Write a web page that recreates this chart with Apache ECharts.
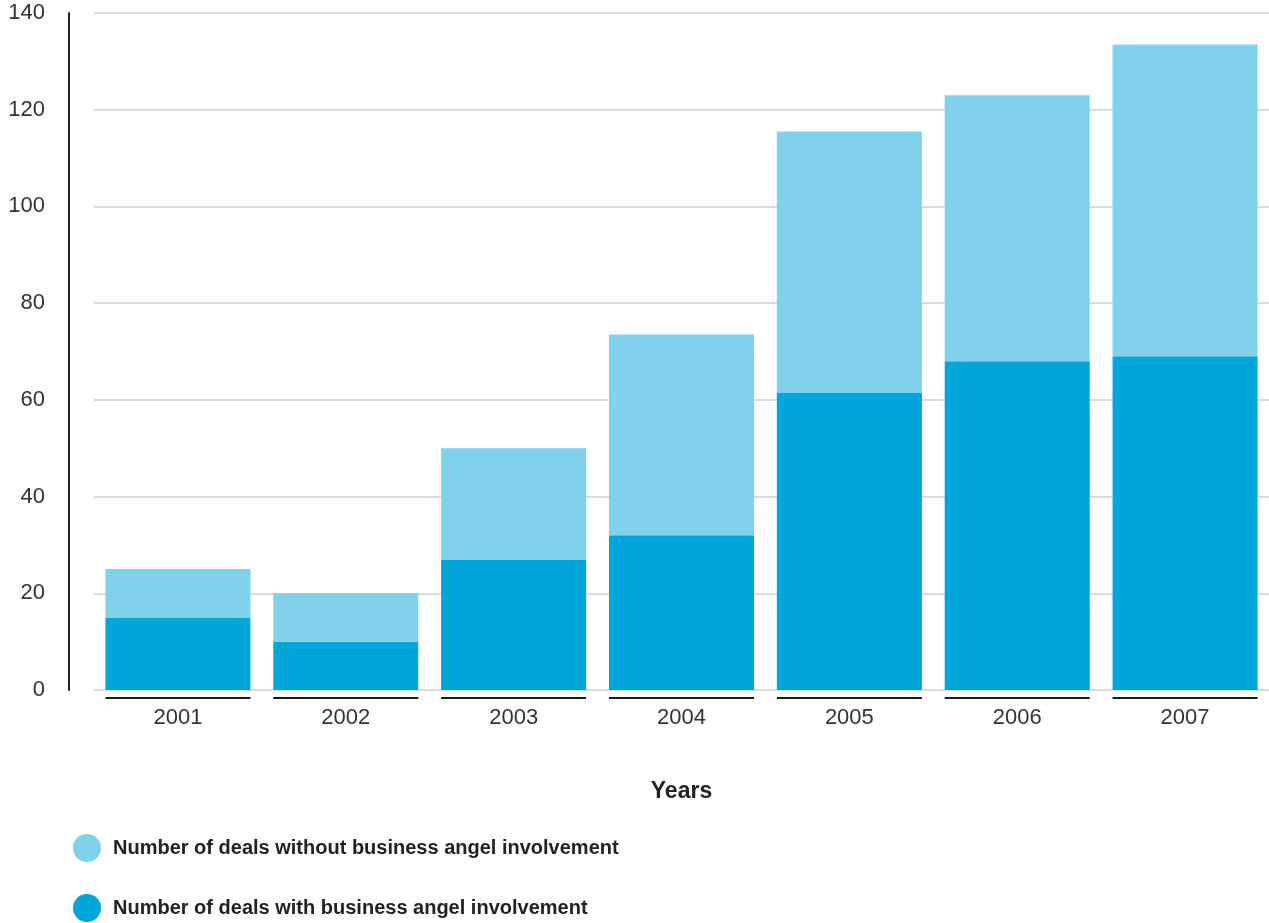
<!DOCTYPE html>
<html>
<head>
<meta charset="utf-8">
<title>Deals with and without business angel involvement</title>
<script src="https://cdn.jsdelivr.net/npm/echarts@6/dist/echarts.min.js"></script>
<style>
  html, body { margin: 0; padding: 0; background: #fff; }
  #chart { width: 1269px; height: 923px; }
</style>
</head>
<body>
<div id="chart"></div>
<script>
// Years on the category axis
const years = ['2001', '2002', '2003', '2004', '2005', '2006', '2007'];
// Deals with business angel involvement (lower stack)
const withAngel = [15, 10, 27, 32, 61.5, 68, 69];
// Deals without business angel involvement (upper stack)
const withoutAngel = [10, 10, 23, 41.5, 54, 55, 64.5];

const nameWithout = 'Number of deals without business angel involvement';
const nameWith = 'Number of deals with business angel involvement';

const LIGHT = '#7fd1ec';
const DARK = '#00a6d9';
const BAR_SHARE = 0.864; // bar width as a share of the category band
const FONT = '"Liberation Sans", Arial, sans-serif';

function legendRow(name, top) {
  return {
    orient: 'vertical',
    left: 73,
    top: top,
    padding: 0,
    itemWidth: 28,
    itemHeight: 28,
    icon: 'circle',
    data: [name],
    formatter: '{t|{name}}',
    textStyle: {
      rich: {
        t: { fontFamily: FONT, fontWeight: 'bold', fontSize: 20, color: '#222', padding: [0, 0, 0, 7] }
      }
    }
  };
}

const chart = echarts.init(document.getElementById('chart'), null, { renderer: 'canvas' });

chart.setOption({
  animation: false,
  backgroundColor: '#ffffff',
  grid: { left: 94, right: 0, top: 13, bottom: 233, containLabel: false },
  legend: [legendRow(nameWithout, 834), legendRow(nameWith, 894)],
  xAxis: {
    type: 'category',
    data: years,
    name: 'Years',
    nameLocation: 'middle',
    nameGap: 90,
    nameTextStyle: { fontFamily: FONT, fontWeight: 'bold', fontSize: 23, color: '#222' },
    axisLine: { show: false },
    axisTick: { show: false },
    axisLabel: { fontFamily: FONT, fontSize: 22, color: '#333', margin: 17 }
  },
  yAxis: {
    type: 'value',
    min: 0,
    max: 140,
    interval: 20,
    offset: 25,
    axisLine: { show: true, lineStyle: { color: '#222', width: 2 } },
    axisTick: { show: false },
    axisLabel: { fontFamily: FONT, fontSize: 22, color: '#333', margin: 24 },
    splitLine: { show: true, lineStyle: { color: '#cfcfcf', width: 1.5 } }
  },
  series: [
    {
      name: nameWith,
      type: 'bar',
      stack: 'deals',
      data: withAngel,
      barCategoryGap: ((1 - BAR_SHARE) * 100).toFixed(1) + '%',
      itemStyle: { color: DARK }
    },
    {
      name: nameWithout,
      type: 'bar',
      stack: 'deals',
      data: withoutAngel,
      itemStyle: { color: LIGHT }
    },
    {
      // dark rule under each year, spanning the width of its bar
      name: 'rule',
      type: 'custom',
      silent: true,
      clip: false,
      data: years.map((y, i) => [i, 0]),
      renderItem: function (params, api) {
        const p = api.coord([api.value(0), api.value(1)]);
        const band = api.size([1, 0])[0];
        const half = band * BAR_SHARE / 2;
        return {
          type: 'line',
          shape: { x1: p[0] - half, y1: p[1] + 8, x2: p[0] + half, y2: p[1] + 8 },
          style: { stroke: '#1a1a1a', lineWidth: 2 }
        };
      }
    }
  ]
});
</script>
</body>
</html>
